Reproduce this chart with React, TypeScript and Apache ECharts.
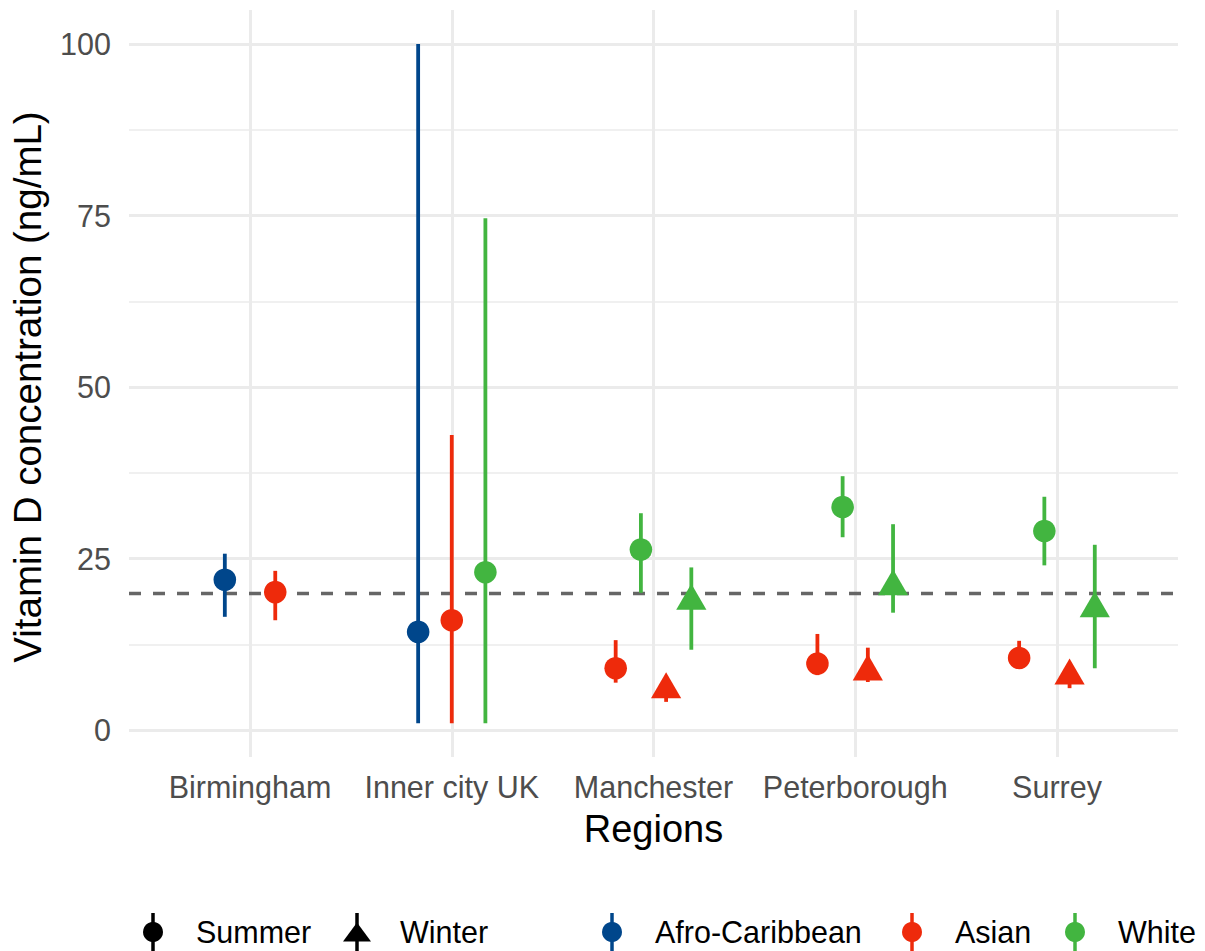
import React, { useEffect, useRef } from 'react';
import * as echarts from 'echarts';

const regions = ['Birmingham', 'Inner city UK', 'Manchester', 'Peterborough', 'Surrey'];
const ethnicities = ['Afro-Caribbean', 'Asian', 'White'];
const seasons = ['Summer', 'Winter'];
const ethnicityColors = ['#00468B', '#EE2A0B', '#42B540'];
const yTicks = [0, 25, 50, 75, 100];

// one row per estimate, listed in dodge order within each region
const rowRegion = [0, 0, 1, 1, 1, 2, 2, 2, 2, 3, 3, 3, 3, 4, 4, 4, 4];
const rowEthnicity = [0, 1, 0, 1, 2, 1, 2, 1, 2, 1, 2, 1, 2, 1, 2, 1, 2];
const rowSeason = [0, 0, 0, 0, 0, 0, 0, 1, 1, 0, 0, 1, 1, 0, 0, 1, 1];
const rowMean = [21.9, 20.1, 14.3, 16.0, 23.0, 9.0, 26.3, 5.9, 18.8, 9.8, 32.5, 8.5, 20.9, 10.5, 29.0, 7.9, 17.7];
const rowLower = [16.5, 16.0, 1.0, 1.0, 1.0, 6.9, 20.0, 4.1, 11.7, 8.0, 28.1, 7.0, 17.1, 9.3, 24.0, 6.1, 9.0];
const rowUpper = [25.7, 23.2, 100, 43.0, 74.6, 13.1, 31.6, 7.6, 23.7, 14.0, 37.0, 12.0, 30.0, 13.0, 34.0, 9.6, 27.0];
const threshold = 20;

const FONT = '"Liberation Sans", Arial, Helvetica, sans-serif';
const dodgeWidth = 0.5;

function dodgedX(): number[] {
  const counts: number[] = regions.map(() => 0);
  rowRegion.forEach((r) => (counts[r] += 1));
  const seen: number[] = regions.map(() => 0);
  return rowRegion.map((r) => {
    const n = counts[r];
    const i = seen[r]++;
    return r + 1 + (i - (n - 1) / 2) * (dodgeWidth / n);
  });
}

// legend key glyph: vertical range line plus a circle (summer) or triangle (winter)
function legendKey(cx: number, cy: number, color: string, shape: 'circle' | 'triangle', label: string) {
  const glyph =
    shape === 'circle'
      ? { type: 'circle', shape: { cx, cy, r: 10 }, style: { fill: color } }
      : {
          type: 'polygon',
          shape: { points: [[cx, cy - 9.5], [cx + 14, cy + 9.5], [cx - 14, cy + 9.5]] },
          style: { fill: color },
        };
  return {
    type: 'group',
    children: [
      { type: 'line', shape: { x1: cx, y1: cy - 19, x2: cx, y2: cy + 22 }, style: { stroke: color, lineWidth: 3.5 } },
      glyph,
      {
        type: 'text',
        x: cx + 43,
        y: cy,
        style: {
          text: label,
          fontSize: 30.5,
          fontFamily: FONT,
          fill: '#000000',
          textAlign: 'left',
          textVerticalAlign: 'middle',
        },
      },
    ],
  };
}

export default function App() {
  const ref = useRef<HTMLDivElement>(null);

  useEffect(() => {
    if (!ref.current) return;
    const chart = echarts.init(ref.current, null, { renderer: 'svg' });
    const xs = dodgedX();

    const renderItem = (params: any, api: any) => {
      const x = api.value(0);
      const m = api.value(1);
      const lo = api.value(2);
      const hi = api.value(3);
      const s = api.value(4);
      const pm = api.coord([x, m]);
      const pl = api.coord([x, lo]);
      const ph = api.coord([x, hi]);
      const color = api.visual('color');
      const children: any[] = [
        {
          type: 'line',
          shape: { x1: pm[0], y1: pl[1], x2: pm[0], y2: ph[1] },
          style: { stroke: color, lineWidth: 3.8 },
        },
      ];
      if (s === 0) {
        children.push({ type: 'circle', shape: { cx: pm[0], cy: pm[1], r: 11.3 }, style: { fill: color } });
      } else {
        children.push({
          type: 'polygon',
          shape: {
            points: [
              [pm[0], pm[1] - 17.4],
              [pm[0] + 15.1, pm[1] + 8.7],
              [pm[0] - 15.1, pm[1] + 8.7],
            ],
          },
          style: { fill: color },
        });
      }
      return { type: 'group', children };
    };

    const ethSeries = ethnicities.map((eth, e) => ({
      name: eth,
      type: 'custom',
      xAxisIndex: 0,
      yAxisIndex: 0,
      z: 5,
      itemStyle: { color: ethnicityColors[e] },
      renderItem,
      encode: { x: 0, y: [1, 2, 3] },
      data: rowRegion
        .map((_, i) => i)
        .filter((i) => rowEthnicity[i] === e)
        .map((i) => [xs[i], rowMean[i], rowLower[i], rowUpper[i], rowSeason[i]]),
    }));

    const legendY = 932;
    const seasonKeyX = [153, 357];
    const ethnicityKeyX = [612, 912, 1075];
    const legendGraphics = [
      ...seasons.map((s, i) => legendKey(seasonKeyX[i], legendY, '#000000', i === 0 ? 'circle' : 'triangle', s)),
      ...ethnicities.map((e, i) => legendKey(ethnicityKeyX[i], legendY, ethnicityColors[i], 'circle', e)),
    ];

    const option: any = {
      animation: false,
      backgroundColor: '#ffffff',
      textStyle: { fontFamily: FONT },
      grid: [
        { left: 128.5, right: 27, top: 44, bottom: 221 },
        { left: 250, right: 148, top: 10, bottom: 194 },
      ],
      xAxis: [
        { gridIndex: 0, type: 'value', min: 0.4, max: 5.6, show: false },
        {
          gridIndex: 1,
          type: 'category',
          data: regions,
          boundaryGap: false,
          axisLine: { show: false },
          axisTick: { show: false, interval: 0 },
          splitLine: { show: true, interval: 0, lineStyle: { color: '#EBEBEB', width: 3 } },
          axisLabel: { interval: 0, fontSize: 30.5, color: '#4D4D4D', margin: 14, fontFamily: FONT },
          name: 'Regions',
          nameLocation: 'middle',
          nameGap: 53,
          nameTextStyle: { fontSize: 38, color: '#000000', fontFamily: FONT },
        },
      ],
      yAxis: [
        {
          gridIndex: 0,
          type: 'value',
          min: yTicks[0],
          max: yTicks[yTicks.length - 1],
          interval: yTicks[1] - yTicks[0],
          axisLine: { show: false },
          axisTick: { show: false },
          axisLabel: { fontSize: 30.5, color: '#4D4D4D', margin: 18, fontFamily: FONT },
          splitLine: { show: true, lineStyle: { color: '#EBEBEB', width: 3 } },
          minorTick: { show: false, splitNumber: 2 },
          minorSplitLine: { show: true, lineStyle: { color: '#EBEBEB', width: 1.5 } },
          name: 'Vitamin D concentration (ng/mL)',
          nameLocation: 'middle',
          nameGap: 82,
          nameTextStyle: { fontSize: 38.5, color: '#000000', fontFamily: FONT },
        },
        { gridIndex: 1, type: 'value', min: 0, max: 1, show: false },
      ],
      graphic: legendGraphics,
      series: [
        {
          name: 'threshold',
          type: 'line',
          xAxisIndex: 0,
          yAxisIndex: 0,
          z: 3,
          data: [],
          markLine: {
            silent: true,
            symbol: ['none', 'none'],
            label: { show: false },
            lineStyle: { color: '#666666', width: 3.3, type: [12, 12] },
            data: [{ yAxis: threshold }],
          },
        },
        ...ethSeries,
      ],
    };

    chart.setOption(option);
    return () => chart.dispose();
  }, []);

  return (
    <div
      ref={ref}
      style={{ position: 'fixed', left: 0, top: 0, width: 1205, height: 951, background: '#fff' }}
    />
  );
}
